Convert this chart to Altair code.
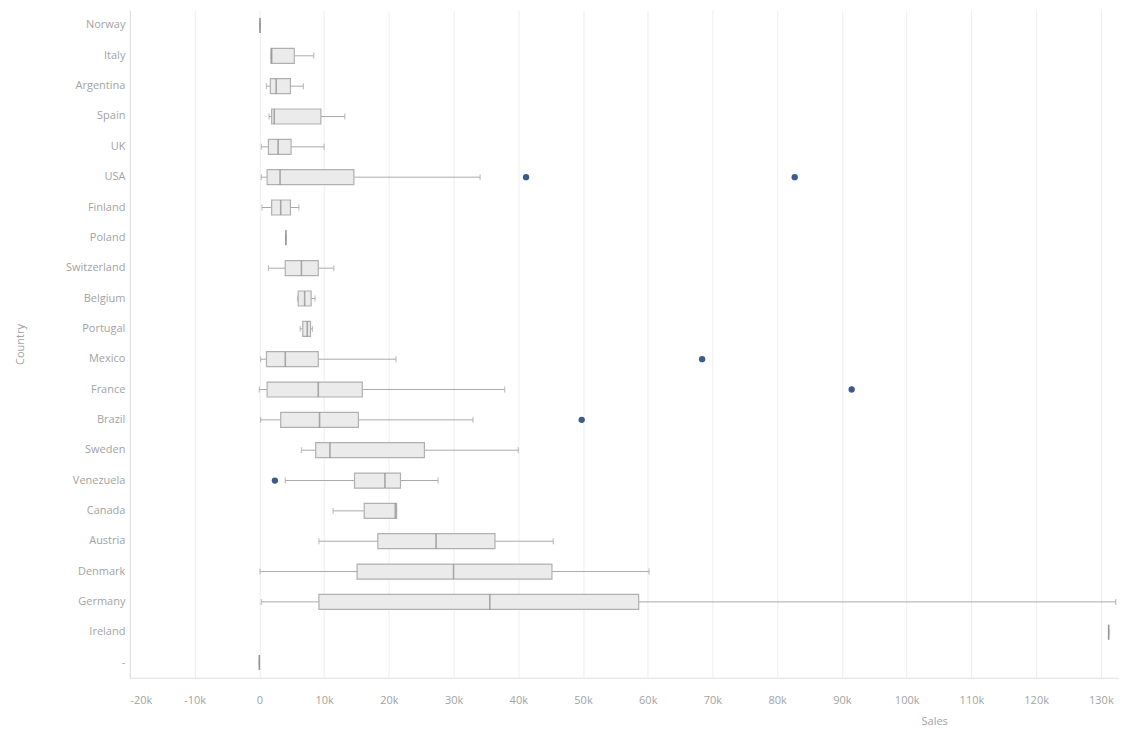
import altair as alt
import pandas as pd

countries = ["Norway", "Italy", "Argentina", "Spain", "UK", "USA", "Finland", "Poland",
             "Switzerland", "Belgium", "Portugal", "Mexico", "France", "Brazil", "Sweden",
             "Venezuela", "Canada", "Austria", "Denmark", "Germany", "Ireland", "-"]
mins    = [100,  1800, 1100, 1500,  300,   300,  400, 4100, 1400, 5900, 6300,  200,     0,   200,  6500,  4000, 11400,  9200,   100,   300, 131200, 0]
q1s     = [100,  1800, 1700, 1900, 1400,  1200, 1900, 4100, 4000, 6000, 6700, 1100,  1200,  3300,  8700, 14700, 16200, 18300, 15100,  9200, 131200, 0]
medians = [100,  1900, 2600, 2300, 2900,  3200, 3300, 4100, 6500, 7000, 7400, 4000,  9100,  9300, 10900, 19400, 21000, 27300, 30000, 35600, 131200, 0]
q3s     = [100,  5400, 4800, 9500, 4900, 14600, 4800, 4100, 9100, 8000, 7900, 9100, 15900, 15300, 25500, 21800, 21200, 36400, 45200, 58600, 131200, 0]
maxs    = [100,  8400, 6800, 13200, 10000, 34100, 6100, 4100, 11500, 8600, 8200, 21100, 37900, 33000, 40000, 27600, 21200, 45400, 60200, 132300, 131200, 0]

outlier_countries = ["USA", "USA", "Mexico", "France", "Brazil", "Venezuela"]
outlier_values    = [41200, 82700, 68400, 91500, 49800, 2400]

tick_values = [-20000, -10000, 0, 10000, 20000, 30000, 40000, 50000, 60000, 70000,
               80000, 90000, 100000, 110000, 120000, 130000]

stats = pd.DataFrame({"country": countries, "min": mins, "q1": q1s, "median": medians,
                      "q3": q3s, "max": maxs})
outliers = pd.DataFrame({"country": outlier_countries, "value": outlier_values})

xscale = alt.Scale(domain=[-20000, 132800], nice=False, zero=False)
yscale = alt.Scale(domain=countries, paddingInner=0, paddingOuter=0)

x_axis = alt.Axis(values=tick_values, title="Sales", grid=True, gridColor="#eeeeee",
                  ticks=False, labelExpr="datum.value == 0 ? '0' : (datum.value/1000) + 'k'",
                  labelColor="#a3a3a3", labelFontSize=11, labelPadding=17,
                  titleColor="#a3a3a3", titleFontSize=11, titleFontWeight="normal",
                  titleX=805, titleY=38, domainColor="#e0e0e0")
y_axis = alt.Axis(title="Country", grid=False, ticks=False, labelColor="#a3a3a3",
                  labelFontSize=11, labelPadding=5, titleColor="#a3a3a3", titleFontSize=11,
                  titleFontWeight="normal", titleX=-104, titleY=334, domainColor="#e0e0e0")

base = alt.Chart(stats)
Y = alt.Y("country:N", sort=countries, scale=yscale, axis=y_axis)

whisk_lo = base.mark_rule(color="#aaaaaa", strokeWidth=1).encode(
    x=alt.X("min:Q", scale=xscale, axis=x_axis), x2="q1:Q", y=Y)
whisk_hi = base.mark_rule(color="#aaaaaa", strokeWidth=1).encode(
    x=alt.X("q3:Q", scale=xscale), x2="max:Q", y=Y)
cap_lo = base.mark_tick(color="#aaaaaa", size=6, thickness=1.2).encode(
    x=alt.X("min:Q", scale=xscale), y=Y)
cap_hi = base.mark_tick(color="#aaaaaa", size=6, thickness=1.2).encode(
    x=alt.X("max:Q", scale=xscale), y=Y)
box = base.mark_bar(size=15, color="#ebebeb", stroke="#b0b0b0", strokeWidth=1.2).encode(
    x=alt.X("q1:Q", scale=xscale), x2="q3:Q", y=Y)
med = base.mark_tick(color="#8a8a8a", size=15, thickness=1.6).encode(
    x=alt.X("median:Q", scale=xscale), y=Y)
pts = alt.Chart(outliers).mark_circle(size=40, color="#3b5b8c", opacity=1).encode(
    x=alt.X("value:Q", scale=xscale),
    y=alt.Y("country:N", sort=countries, scale=yscale))

chart = alt.layer(whisk_lo, whisk_hi, cap_lo, cap_hi, box, med, pts).properties(
    width=990, height=668,
    autosize=alt.AutoSizeParams(type="none"),
    padding={"left": 122, "top": 2, "right": 0, "bottom": 53},
).configure(font="Open Sans").configure_view(strokeWidth=0)

chart.save("out.html", embed_options={"renderer": "svg", "actions": False})
